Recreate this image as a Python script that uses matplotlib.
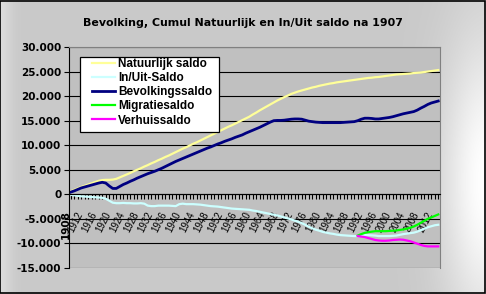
import numpy as np
import matplotlib
matplotlib.use("Agg")
import matplotlib.pyplot as plt
from matplotlib.ticker import FuncFormatter

years = list(range(1908, 2014))

natuurlijk = [600, 900, 1200, 1500, 1750, 2000, 2250, 2500, 2750, 2900,
              2950, 2950, 3000, 3150, 3450, 3750, 4050, 4350, 4700, 5000,
              5300, 5650, 5950, 6300, 6600, 6950, 7250, 7600, 7900, 8250,
              8600, 8950, 9300, 9600, 9950, 10300, 10600, 10950, 11300, 11650,
              12000, 12350, 12700, 13050, 13400, 13750, 14050, 14400, 14750, 15100,
              15450, 15800, 16250, 16650, 17100, 17500, 17900, 18300, 18700, 19100,
              19450, 19800, 20100, 20450, 20700, 20950, 21150, 21350, 21550, 21750,
              21900, 22100, 22250, 22400, 22550, 22650, 22800, 22900, 23000, 23100,
              23200, 23300, 23400, 23500, 23600, 23700, 23750, 23850, 23900, 24000,
              24100, 24200, 24300, 24400, 24450, 24500, 24550, 24600, 24700, 24750,
              24800, 24900, 25000, 25100, 25200, 25300]

in_uit = [-100, -200, -300, -400, -450, -500, -550, -600, -650, -700,
          -900, -1300, -1700, -1800, -1800, -1750, -1800, -1800, -1850, -1850,
          -1800, -1900, -2300, -2400, -2400, -2300, -2300, -2300, -2300, -2350,
          -2400, -2000, -1900, -2000, -2000, -2000, -2050, -2100, -2200, -2300,
          -2400, -2450, -2500, -2600, -2700, -2800, -2900, -2950, -3000, -3050,
          -3100, -3150, -3300, -3400, -3550, -3700, -3850, -4000, -4150, -4300,
          -4500, -4700, -4900, -5100, -5350, -5600, -5850, -6200, -6600, -6900,
          -7200, -7400, -7650, -7800, -7950, -8050, -8200, -8300, -8350, -8400,
          -8450, -8500, -8500, -8400, -8300, -8300, -8350, -8400, -8500, -8500,
          -8500, -8500, -8450, -8400, -8250, -8100, -8000, -7900, -7800, -7600,
          -7300, -7000, -6700, -6500, -6300, -6200]

bevolking = [450, 700, 1000, 1300, 1500, 1700, 1900, 2100, 2300, 2450,
             2300, 1700, 1200, 1200, 1600, 2000, 2300, 2650, 2950, 3300,
             3600, 3900, 4200, 4450, 4700, 5000, 5300, 5650, 6000, 6350,
             6700, 7000, 7300, 7600, 7900, 8200, 8500, 8800, 9100, 9400,
             9650, 9950, 10250, 10500, 10800, 11050, 11300, 11600, 11850, 12100,
             12450, 12750, 13050, 13350, 13650, 14000, 14350, 14700, 15000, 15050,
             15050, 15100, 15200, 15300, 15350, 15350, 15300, 15100, 14900, 14800,
             14700, 14650, 14600, 14600, 14600, 14600, 14600, 14600, 14650, 14700,
             14750, 14800, 15000, 15300, 15500, 15500, 15450, 15350, 15350, 15450,
             15550, 15650, 15800, 16000, 16200, 16400, 16550, 16700, 16850, 17150,
             17550, 17900, 18300, 18600, 18800, 19000]

years_recent = list(range(1990, 2014))
migratie = [-8400, -8100, -7850, -7700, -7600, -7500, -7500, -7500, -7500, -7450,
            -7400, -7350, -7250, -7150, -7000, -6800, -6550, -6200, -5800, -5400,
            -5000, -4700, -4400, -4100]
verhuis = [-8500, -8600, -8700, -8900, -9100, -9300, -9400, -9450, -9450, -9400,
           -9300, -9250, -9200, -9250, -9400, -9550, -9800, -10050, -10300, -10500,
           -10600, -10600, -10600, -10600]

label_years = list(range(1908, 2013, 4))
title = "Bevolking, Cumul Natuurlijk en In/Uit saldo na 1907"

W, H = 486, 294
fig = plt.figure(figsize=(W / 100, H / 100), dpi=100)

# background gradient
bg = fig.add_axes([0, 0, 1, 1], zorder=-10)
xx, yy = np.meshgrid(np.linspace(0, 1, 300), np.linspace(0, 1, 200))
g = 0.79 + 0.21 * np.exp(-(((xx - 1.0) ** 2) / 0.008 + ((yy - 0.62) ** 2) / 0.25))
g = g + 0.07 * np.exp(-(xx ** 2) / 0.0005)
g = np.clip(g, 0, 1)
bg.imshow(np.dstack([g, g, g]), extent=[0, 1, 0, 1], aspect='auto', origin='upper')
bg.set_xlim(0, 1); bg.set_ylim(0, 1)
bg.axis('off')
bg.add_patch(plt.Rectangle((0.001, 0.002), 0.997, 0.995, fill=False, edgecolor='black', lw=1.2,
                           transform=bg.transAxes))

left, right, top, bottom = 69, 440, 47, 268
ax = fig.add_axes([left / W, 1 - bottom / H, (right - left) / W, (bottom - top) / H])
ax.set_facecolor('#C0C0C0')

ax.set_ylim(-15000, 30000)
ax.set_xlim(1908 - 1.75 / 3.5, 2013 + 1.75 / 3.5)
ax.set_yticks(range(-15000, 30001, 5000))
ax.yaxis.set_major_formatter(FuncFormatter(lambda v, p: f"{int(v):,}".replace(",", ".")))
ax.grid(axis='y', color='black', lw=0.8)
ax.set_axisbelow(True)

ax.plot(years, natuurlijk, color='#FFFF99', lw=1.6, label='Natuurlijk saldo')
ax.plot(years, in_uit, color='#CCFFFF', lw=1.6, label='In/Uit-Saldo')
ax.plot(years, bevolking, color='#000080', lw=2.0, label='Bevolkingssaldo')
ax.plot(years_recent, migratie, color='#00FF00', lw=1.6, label='Migratiesaldo')
ax.plot(years_recent, verhuis, color='#FF00FF', lw=1.6, label='Verhuissaldo')

for s in ['top', 'right']:
    ax.spines[s].set_color('#808080')
ax.spines['left'].set_color('black')
ax.spines['bottom'].set_position(('data', 0))
ax.spines['bottom'].set_color('black')

ax.set_xticks(label_years)
ax.set_xticks(years, minor=True)
ax.set_xticklabels([str(y) for y in label_years], rotation=63, fontsize=7,
                   ha='right', va='top', family='Liberation Sans')
ax.tick_params(axis='x', which='both', direction='out', length=3.5, width=0.8, color='black', pad=8)
ax.tick_params(axis='y', direction='out', length=3.5, width=0.8, pad=2)
first = ax.get_xticklabels()[0]
first.set_rotation(90)
first.set_fontweight('bold')
first.set_fontsize(7.5)
first.set_family('DejaVu Sans')
for lab in ax.get_yticklabels():
    lab.set_fontweight('bold')
    lab.set_fontsize(7.5)

# legend box drawn in figure pixels, above the axes
box = plt.Rectangle((80 / W, 1 - 132 / H), (219 - 80) / W, (132 - 57) / H,
                    facecolor='white', edgecolor='black', lw=0.9, transform=fig.transFigure,
                    zorder=4)
fig.add_artist(box)
leg = fig.legend(*ax.get_legend_handles_labels(), loc='upper left',
                 bbox_to_anchor=(92 / W, 1 - 58 / H), frameon=False,
                 prop={'family': 'Liberation Sans', 'weight': 'bold', 'size': 8.5},
                 handlelength=1.95, labelspacing=0.18, borderpad=0, handletextpad=0.25,
                 borderaxespad=0)
leg.set_zorder(6)

fig.text(243 / W, 1 - 23 / H, title, ha='center', va='center', fontsize=7.9, fontweight='bold',
         family='DejaVu Sans')

fig.savefig('out.png', dpi=100)
